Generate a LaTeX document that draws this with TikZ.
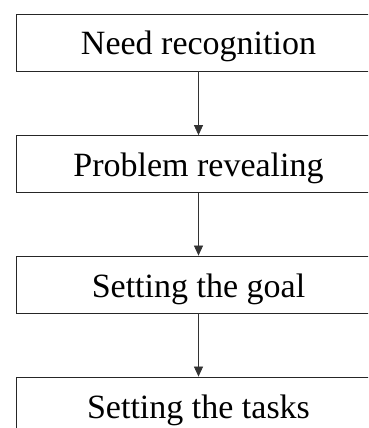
\documentclass[tikz,border=0pt]{standalone}
\usepackage{fontspec}
\setmainfont{Liberation Serif}
\usetikzlibrary{arrows.meta}
\begin{document}
\begin{tikzpicture}[x=1pt,y=1pt,
  stagebox/.style={draw=black!85, line width=0.8pt, minimum width=365pt, minimum height=57pt,
    inner sep=0pt, text height=25pt, text depth=0pt, font=\fontsize{34}{40}\selectfont},
  flowarrow/.style={draw=black!80, line width=0.7pt, -{Triangle[length=10pt,width=9pt]}}]
\clip (0,0) rectangle (368,-428);
\useasboundingbox (0,0) rectangle (368,-428);
\node[stagebox] (a) at (198.5,-42.5) {Need recognition};
\node[stagebox] (b) at (198.5,-164) {Problem revealing};
\node[stagebox] (c) at (198.5,-284.5) {Setting the goal};
\node[stagebox] (d) at (198.5,-405.5) {Setting the tasks};
\draw[flowarrow] (a.south) -- (b.north);
\draw[flowarrow] (b.south) -- (c.north);
\draw[flowarrow] (c.south) -- (d.north);
\end{tikzpicture}
\end{document}
